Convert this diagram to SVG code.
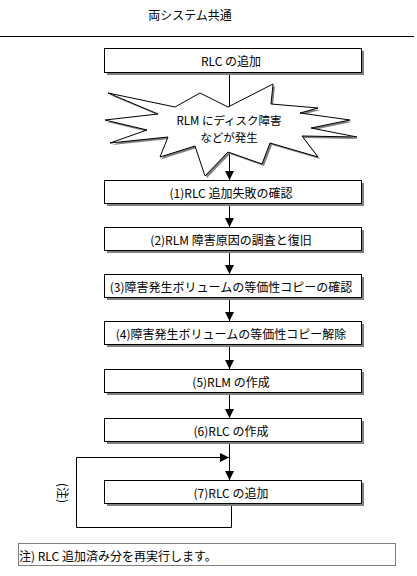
<svg xmlns="http://www.w3.org/2000/svg" width="417" height="576" viewBox="0 0 417 576">
<style>
text{font-family:"Noto Sans CJK JP","Noto Sans",sans-serif;font-size:12px;fill:#000}
.c{text-anchor:middle;dominant-baseline:central}
.s{font-size:11.5px}
.box{fill:#fff;stroke:#000;stroke-width:1}
.sh{fill:#808080}
.ln{fill:none;stroke:#000;stroke-width:1}
</style>
<defs>
<marker id="ad" viewBox="0 0 10 10" refX="10" refY="5" markerWidth="9" markerHeight="9" markerUnits="userSpaceOnUse" orient="auto">
<path d="M0,0 L10,5 L0,10 Z" fill="#000"/>
</marker>
</defs>
<rect width="417" height="576" fill="#fff"/>
<text id="title" x="190" y="14" class="c">両システム共通</text>
<line x1="0" y1="36.5" x2="414" y2="36.5" class="ln"/>

<g id="connectors">
<line x1="229.5" y1="72" x2="229.5" y2="180" class="ln" marker-end="url(#ad)"/>
<line x1="229.5" y1="203" x2="229.5" y2="227" class="ln" marker-end="url(#ad)"/>
<line x1="229.5" y1="250" x2="229.5" y2="274" class="ln" marker-end="url(#ad)"/>
<line x1="229.5" y1="297" x2="229.5" y2="321" class="ln" marker-end="url(#ad)"/>
<line x1="229.5" y1="344" x2="229.5" y2="369" class="ln" marker-end="url(#ad)"/>
<line x1="229.5" y1="392" x2="229.5" y2="418" class="ln" marker-end="url(#ad)"/>
<line x1="229.5" y1="441" x2="229.5" y2="480" class="ln" marker-end="url(#ad)"/>
<polyline points="231.5,503 231.5,527.5 76.5,527.5 76.5,457.5 229,457.5" class="ln" marker-end="url(#ad)"/>
</g>

<g id="n0">
<rect x="107" y="51" width="257" height="24" class="sh"/>
<rect x="104.5" y="48.5" width="257" height="24" class="box"/>
<text x="231" y="60.5" class="c">RLC の追加</text>
</g>

<g id="star">
<polygon transform="translate(2,2)" class="sh" points="108,93 175,107 200,93 228,107 273,84 271,104 318,108 300,113 350,120 311,128 357,137 302,136 318,157 270,143 262,164 228,152 205,176 195,146 160,157 168,137 110,143 147,130 105,120 158,114"/>
<polygon class="box" points="108,93 175,107 200,93 228,107 273,84 271,104 318,108 300,113 350,120 311,128 357,137 302,136 318,157 270,143 262,164 228,152 205,176 195,146 160,157 168,137 110,143 147,130 105,120 158,114"/>
<text x="229" y="120" class="c s">RLM にディスク障害</text>
<text x="229" y="137" class="c s">などが発生</text>
</g>

<g id="n1">
<rect x="107" y="183" width="257" height="23" class="sh"/>
<rect x="104.5" y="180.5" width="257" height="23" class="box"/>
<text x="231" y="192" class="c">(1)RLC 追加失敗の確認</text>
</g>
<g id="n2">
<rect x="107" y="230" width="257" height="23" class="sh"/>
<rect x="104.5" y="227.5" width="257" height="23" class="box"/>
<text x="231" y="239" class="c">(2)RLM 障害原因の調査と復旧</text>
</g>
<g id="n3">
<rect x="107" y="277" width="257" height="23" class="sh"/>
<rect x="104.5" y="274.5" width="257" height="23" class="box"/>
<text x="231" y="286" class="c">(3)障害発生ボリュームの等価性コピーの確認</text>
</g>
<g id="n4">
<rect x="107" y="324" width="257" height="23" class="sh"/>
<rect x="104.5" y="321.5" width="257" height="23" class="box"/>
<text x="231" y="333" class="c">(4)障害発生ボリュームの等価性コピー解除</text>
</g>
<g id="n5">
<rect x="107" y="372" width="257" height="23" class="sh"/>
<rect x="104.5" y="369.5" width="257" height="23" class="box"/>
<text x="231" y="381" class="c">(5)RLM の作成</text>
</g>
<g id="n6">
<rect x="107" y="421" width="257" height="23" class="sh"/>
<rect x="104.5" y="418.5" width="257" height="23" class="box"/>
<text x="231" y="430" class="c">(6)RLC の作成</text>
</g>
<g id="n7">
<rect x="107" y="483" width="257" height="23" class="sh"/>
<rect x="104.5" y="480.5" width="257" height="23" class="box"/>
<text x="231" y="492" class="c">(7)RLC の追加</text>
</g>

<g id="loopnote">
<text transform="translate(63,493) rotate(90)" class="c">(注)</text>
</g>

<g id="footnote">
<rect x="18.5" y="543.5" width="377" height="22" fill="none" stroke="#000" stroke-width="1" stroke-dasharray="1,1"/>
<text x="19" y="555" dominant-baseline="central">注) RLC 追加済み分を再実行します。</text>
</g>
</svg>
